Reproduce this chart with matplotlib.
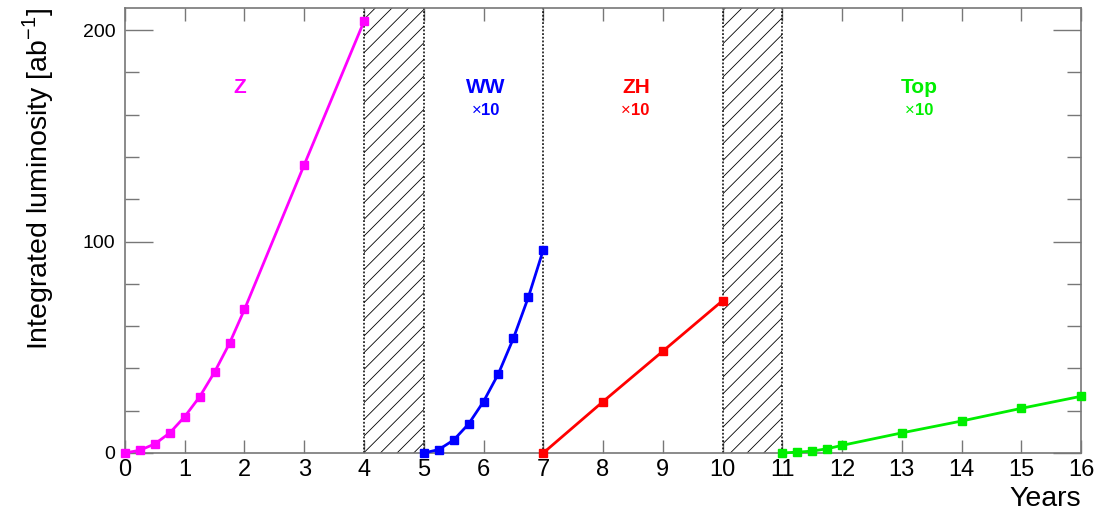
import numpy as np
import matplotlib
matplotlib.use("Agg")
import matplotlib.pyplot as plt
from matplotlib.ticker import MultipleLocator

plt.rcParams["font.family"] = ["Liberation Sans", "DejaVu Sans"]
plt.rcParams["hatch.linewidth"] = 0.6

# values (ab^-1; WW, ZH, Top scaled x10)
z_years = [0, 0.25, 0.5, 0.75, 1, 1.25, 1.5, 1.75, 2, 3, 4]
z_lumi = [0, 1.3, 4.3, 9.5, 17.2, 26.6, 38.3, 51.9, 67.9, 136.3, 204.1]
ww_years = [5, 5.25, 5.5, 5.75, 6, 6.25, 6.5, 6.75, 7]
ww_lumi = [0, 1.6, 6.1, 13.7, 24.3, 37.5, 54.2, 73.6, 96.0]
zh_years = [7, 8, 9, 10]
zh_lumi = [0, 24.3, 48.1, 72.0]
top_years = [11, 11.25, 11.5, 11.75, 12, 13, 14, 15, 16]
top_lumi = [0, 0.4, 0.9, 2.0, 3.6, 9.5, 15.1, 21.1, 26.8]

shutdowns = [(4, 5), (10, 11)]
boundaries = [4, 5, 7, 10, 11]

labels = ["Z", "WW", "ZH", "Top"]
label_x = [1.92, 6.04, 8.55, 13.3]
scale_text = [None, "×", "×", "×"]
colors = ["#ff00ff", "#0000ff", "#ff0000", "#00ee00"]

fig = plt.figure(figsize=(11.14, 5.14), dpi=100)
ax = fig.add_axes([0.1122, 0.1187, 0.8582, 0.8657])

for a, b in shutdowns:
    ax.axvspan(a, b, facecolor="none", edgecolor="black", hatch="//", lw=0)
for xb in boundaries:
    ax.axvline(xb, color="black", ls=(0, (1.2, 1.2)), lw=1.1)

series = [(z_years, z_lumi), (ww_years, ww_lumi), (zh_years, zh_lumi), (top_years, top_lumi)]
for (xs, ys), c in zip(series, colors):
    ax.plot(xs, ys, color=c, lw=2, marker="s", ms=6, clip_on=False, zorder=5)

for lab, lx, st, c in zip(labels, label_x, scale_text, colors):
    ax.text(lx, 173, lab, color=c, fontsize=15, fontweight="bold", ha="center", va="center")
    if st:
        # thin times sign, bold factor
        ax.text(lx - 0.08, 162, st, color=c, fontsize=12, ha="right", va="center")
        ax.text(lx - 0.08, 162, "10", color=c, fontsize=12, fontweight="bold",
                ha="left", va="center")

ax.set_xlim(0, 16)
ax.set_ylim(0, 210.4)
ax.xaxis.set_major_locator(MultipleLocator(1))
ax.yaxis.set_major_locator(MultipleLocator(100))
ax.yaxis.set_minor_locator(MultipleLocator(20))

ax.tick_params(axis="x", which="major", direction="in", length=9.5, width=1, color="#777777",
               top=True, labelsize=17, pad=4)
ax.tick_params(axis="y", which="major", direction="in", length=20, width=1, color="#777777",
               right=True, labelsize=14, pad=7)
ax.tick_params(axis="y", which="minor", direction="in", length=10, width=1, color="#777777",
               right=True)
for s in ax.spines.values():
    s.set_color("#777777")
    s.set_linewidth(1.2)

ax.set_ylabel("Integrated luminosity [ab$^{\\mathregular{-1}}$]", fontsize=20.5, loc="top",
              labelpad=19)
ax.set_xlabel("Years", fontsize=20.5, loc="right", labelpad=4)

fig.savefig("out.png", dpi=100)
